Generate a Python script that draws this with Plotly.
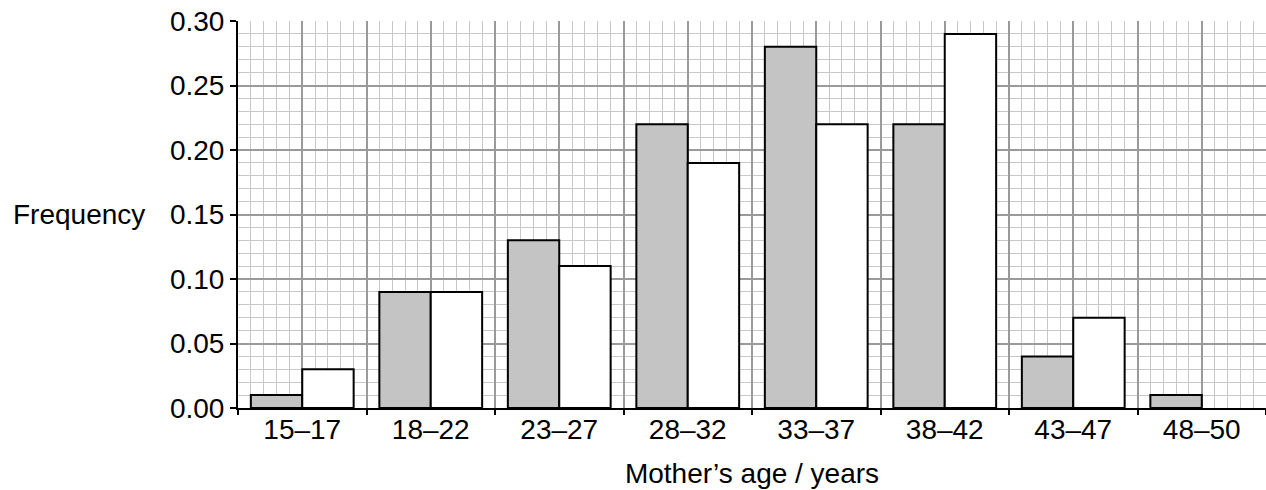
import plotly.graph_objects as go
import numpy as np

categories = ["15–17", "18–22", "23–27", "28–32", "33–37", "38–42", "43–47", "48–50"]
grey_values = [0.01, 0.09, 0.13, 0.22, 0.28, 0.22, 0.04, 0.01]
white_values = [0.03, 0.09, 0.11, 0.19, 0.22, 0.29, 0.07, None]
y_ticks = [0.00, 0.05, 0.10, 0.15, 0.20, 0.25, 0.30]

UNIT = 10  # minor grid squares per age group
n = len(categories)
centers = (np.arange(n) + 0.5) * UNIT
bounds = np.arange(n + 1) * UNIT
half_steps = np.arange(2 * n + 1) * UNIT / 2
half_text = [categories[i // 2] if i % 2 == 1 else "" for i in range(2 * n + 1)]

FONT = "Liberation Sans, Arial, sans-serif"
FS = 28

fig = go.Figure()
fig.add_trace(go.Bar(x=centers, y=grey_values, marker=dict(color="#c4c4c4", line=dict(color="black", width=2)), showlegend=False, hoverinfo="skip"))
fig.add_trace(go.Bar(x=centers, y=white_values, marker=dict(color="white", line=dict(color="black", width=2)), showlegend=False, hoverinfo="skip"))
# invisible helper trace so the boundary-tick axis is drawn
fig.add_trace(go.Scatter(x=bounds, y=[0] * len(bounds), xaxis="x2", mode="markers",
                         marker=dict(opacity=0), showlegend=False, hoverinfo="skip"))

fig.update_layout(
    width=1266, height=490,
    margin=dict(l=238, r=0, t=21, b=82, autoexpand=False),
    paper_bgcolor="white", plot_bgcolor="white",
    barmode="group", bargap=0.2, bargroupgap=0,
    font=dict(family=FONT, size=FS, color="black"),
    xaxis=dict(
        range=[0, n * UNIT], tickmode="array", tickvals=half_steps, ticktext=half_text,
        ticks="", ticklen=0, ticklabelstandoff=-5, ticklabeloverflow="allow",
        showgrid=True, gridcolor="#9a9a9a", gridwidth=1.6, zeroline=False,
        minor=dict(dtick=1, tick0=0, showgrid=True, gridcolor="#c8c8c8", gridwidth=1.2, ticks=""),
        showline=True, linecolor="black", linewidth=2, automargin=False,
        title=dict(text="Mother’s age / years", standoff=20, font=dict(size=FS)),
        tickfont=dict(size=FS),
    ),
    xaxis2=dict(
        overlaying="x", anchor="y", side="bottom", range=[0, n * UNIT],
        tickmode="array", tickvals=bounds, showticklabels=False,
        ticks="outside", ticklen=6, tickwidth=1.5, tickcolor="black",
        showgrid=False, zeroline=False, showline=False, automargin=False,
    ),
    yaxis=dict(
        range=[0, 0.30], tickmode="array", tickvals=y_ticks, tickformat=".2f",
        ticks="outside", ticklen=6, tickwidth=1.5, tickcolor="black", ticklabeloverflow="allow",
        showgrid=True, gridcolor="#9a9a9a", gridwidth=1.6, zeroline=False,
        minor=dict(dtick=0.01, showgrid=True, gridcolor="#c8c8c8", gridwidth=1.2, ticks=""),
        showline=True, linecolor="black", linewidth=2, automargin=False,
        tickfont=dict(size=FS),
    ),
    annotations=[dict(
        text="Frequency", xref="paper", yref="paper", x=-0.0885, y=0.5,
        xanchor="right", yanchor="middle", showarrow=False, font=dict(size=FS),
    )],
)

fig.write_html("out.html", config={"displayModeBar": False},
               post_script="document.body.style.margin='0';")
